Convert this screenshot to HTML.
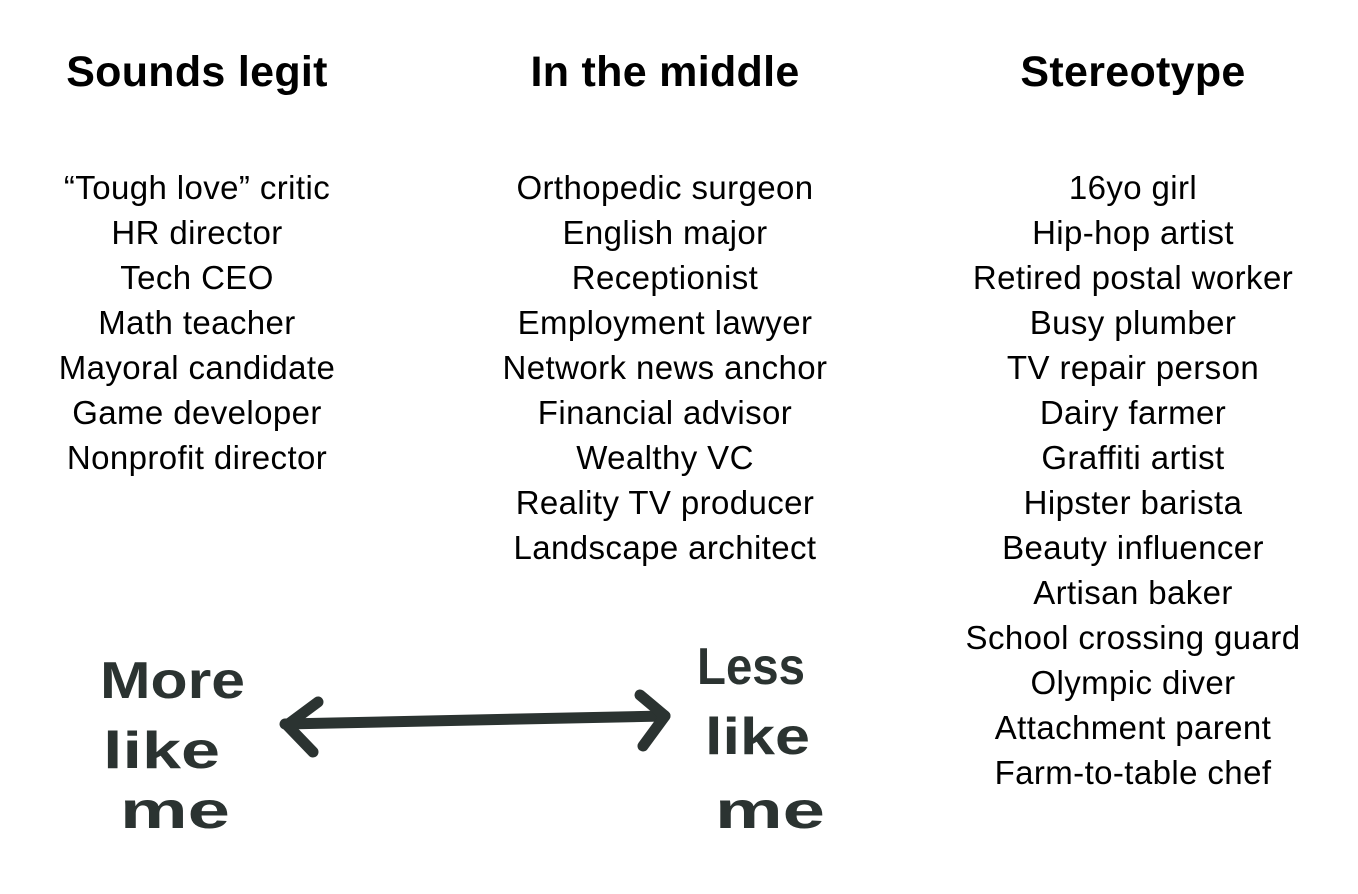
<!DOCTYPE html>
<html><head><meta charset="utf-8"><style>
html,body{margin:0;padding:0;background:#fff;}
body{width:1358px;height:894px;position:relative;overflow:hidden;font-family:"Liberation Sans",sans-serif;color:#000;}
.col{position:absolute;width:460px;text-align:center;}
h1{margin:0;position:absolute;top:47px;width:460px;text-align:center;font-size:43px;font-weight:bold;line-height:50px;letter-spacing:0.3px;}
.list{position:absolute;top:165px;width:460px;text-align:center;font-size:33px;line-height:45px;letter-spacing:0.4px;}
</style></head><body>
<div class="col" style="left:-33px"><h1>Sounds legit</h1><div class="list">“Tough love” critic<br>HR director<br>Tech CEO<br>Math teacher<br>Mayoral candidate<br>Game developer<br>Nonprofit director</div></div>
<div class="col" style="left:435px"><h1>In the middle</h1><div class="list">Orthopedic surgeon<br>English major<br>Receptionist<br>Employment lawyer<br>Network news anchor<br>Financial advisor<br>Wealthy VC<br>Reality TV producer<br>Landscape architect</div></div>
<div class="col" style="left:903px"><h1>Stereotype</h1><div class="list">16yo girl<br>Hip-hop artist<br>Retired postal worker<br>Busy plumber<br>TV repair person<br>Dairy farmer<br>Graffiti artist<br>Hipster barista<br>Beauty influencer<br>Artisan baker<br>School crossing guard<br>Olympic diver<br>Attachment parent<br>Farm-to-table chef</div></div>
<svg width="1358" height="894" style="position:absolute;left:0;top:0" xmlns="http://www.w3.org/2000/svg">
<g fill="#2b3331" font-family="Liberation Sans, sans-serif" font-weight="bold" font-size="52">
<text x="100" y="698" textLength="145" lengthAdjust="spacingAndGlyphs">More</text>
<text x="103" y="768" textLength="117" lengthAdjust="spacingAndGlyphs">like</text>
<text x="120" y="828" textLength="110" lengthAdjust="spacingAndGlyphs">me</text>
<text x="697" y="684" textLength="108" lengthAdjust="spacingAndGlyphs">Less</text>
<text x="705" y="754" textLength="105" lengthAdjust="spacingAndGlyphs">like</text>
<text x="715" y="828" textLength="110" lengthAdjust="spacingAndGlyphs">me</text>
</g>
<g fill="none" stroke="#2b3331" stroke-width="11" stroke-linecap="round" stroke-linejoin="round">
<path d="M285 724 L665 716"/>
<path d="M318 702 L287 725 L313 752"/>
<path d="M640 695 L665 716 L643 746"/>
</g>
</svg>
</body></html>
